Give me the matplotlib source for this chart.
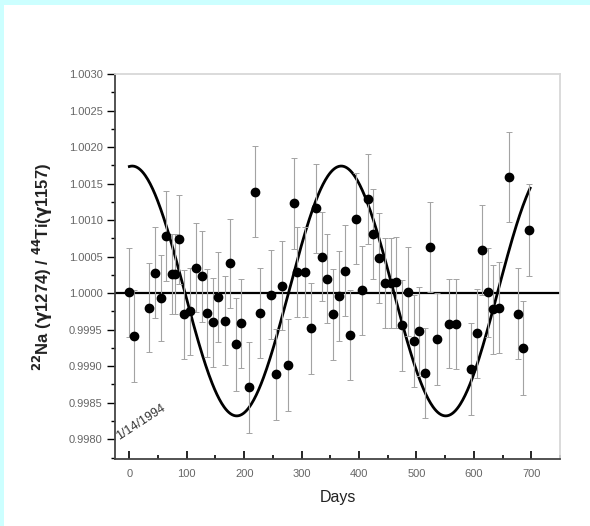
import numpy as np
import matplotlib
matplotlib.use("Agg")
import matplotlib.pyplot as plt
from matplotlib.patches import Rectangle
from matplotlib.ticker import MultipleLocator

plt.rcParams['font.family'] = ['Liberation Sans', 'DejaVu Sans']

# measured ratio vs days since 1/14/1994
days = [0, 8, 35, 45, 55, 64, 74, 80, 86, 96, 105, 116, 126, 135, 146, 155,
        166, 175, 186, 195, 208, 218, 228, 246, 255, 266, 276, 286, 292, 306,
        316, 325, 336, 345, 355, 365, 375, 385, 395, 405, 415, 425, 435, 445,
        455, 464, 475, 486, 495, 505, 515, 524, 535, 557, 569, 595, 605, 614,
        625, 634, 644, 661, 676, 686, 696]
ratio = [1.00001, 0.99942, 0.99980, 1.00028, 0.99993, 1.00078, 1.00026, 1.00026,
         1.00074, 0.99971, 0.99975, 1.00035, 1.00023, 0.99973, 0.99960, 0.99995,
         0.99962, 1.00041, 0.99930, 0.99959, 0.99871, 1.00139, 0.99973, 0.99998,
         0.99889, 1.00010, 0.99902, 1.00123, 1.00029, 1.00029, 0.99952, 1.00116,
         1.00050, 1.00020, 0.99971, 0.99996, 1.00031, 0.99943, 1.00102, 1.00004,
         1.00129, 1.00081, 1.00048, 1.00014, 1.00014, 1.00015, 0.99956, 1.00002,
         0.99934, 0.99948, 0.99891, 1.00063, 0.99937, 0.99958, 0.99958, 0.99896,
         0.99945, 1.00059, 1.00001, 0.99978, 0.99980, 1.00159, 0.99972, 0.99925,
         1.00086]
err = [0.00061, 0.00063, 0.00061, 0.00062, 0.00059, 0.00062, 0.00055, 0.00055,
       0.00061, 0.00061, 0.00060, 0.00061, 0.00062, 0.00060, 0.00061, 0.00062,
       0.00061, 0.00061, 0.00064, 0.00061, 0.00062, 0.00062, 0.00062, 0.00061,
       0.00062, 0.00061, 0.00063, 0.00062, 0.00062, 0.00062, 0.00062, 0.00061,
       0.00061, 0.00061, 0.00062, 0.00062, 0.00062, 0.00062, 0.00062, 0.00061,
       0.00062, 0.00062, 0.00062, 0.00061, 0.00062, 0.00062, 0.00062, 0.00061,
       0.00063, 0.00061, 0.00062, 0.00062, 0.00063, 0.00061, 0.00062, 0.00063,
       0.00061, 0.00061, 0.00061, 0.00061, 0.00062, 0.00062, 0.00062, 0.00064,
       0.00063]

# fitted annual modulation
fit_mean = 1.00003
fit_amp = 0.00171
fit_period = 364.0
fit_peak_day = 5.0

xticks = [0, 100, 200, 300, 400, 500, 600, 700]
yticks = [0.9980, 0.9985, 0.9990, 0.9995, 1.0000, 1.0005, 1.0010, 1.0015,
          1.0020, 1.0025, 1.0030]

fig = plt.figure(figsize=(5.9, 5.26), dpi=100, facecolor='#ccffff')
fig.patches.append(Rectangle((4 / 590, 0), 1, 1 - 5 / 526, transform=fig.transFigure,
                             facecolor='white', edgecolor='none', zorder=-1))

ax = fig.add_axes([115 / 590, 67 / 526, 445 / 590, 385 / 526])
ax.set_facecolor('white')

ax.axhline(1.0, color='black', lw=1.6, zorder=2)

t = np.linspace(0, 698, 500)
fit = fit_mean + fit_amp * np.cos(2 * np.pi * (t - fit_peak_day) / fit_period)
ax.plot(t, fit, color='black', lw=2.0, zorder=3)

ax.errorbar(days, ratio, yerr=err, fmt='o', color='black', ms=6,
            ecolor='#a3a3a3', elinewidth=0.8, capsize=2.5, capthick=0.7, zorder=4)

ax.text(-15, 0.99795, '1/14/1994', rotation=33, rotation_mode='anchor',
        ha='left', va='bottom', fontsize=9, color='#333333')

ax.set_xlim(-25, 750)
ax.set_ylim(0.99773, 1.0030)
ax.set_xticks(xticks)
ax.set_yticks(yticks)
ax.set_yticklabels(['%.4f' % v for v in yticks])
ax.xaxis.set_minor_locator(MultipleLocator(50))
ax.yaxis.set_minor_locator(MultipleLocator(0.00025))

ax.tick_params(axis='x', which='major', direction='in', length=6, width=1.2,
               labelsize=8, labelcolor='#666666', pad=7)
ax.tick_params(axis='x', which='minor', direction='in', length=3, width=1.2)
ax.tick_params(axis='y', which='major', direction='out', length=6, width=1,
               labelsize=8, labelcolor='#666666', pad=3)
ax.tick_params(axis='y', which='minor', direction='out', length=3, width=1)

for s in ['left', 'bottom']:
    ax.spines[s].set_color('#444444')
    ax.spines[s].set_linewidth(1.3)
for s in ['top', 'right']:
    ax.spines[s].set_color('#d8d8d8')
    ax.spines[s].set_linewidth(1.3)

ax.set_xlabel('Days', fontsize=11.5, color='#222222', labelpad=8)
ax.set_ylabel(r'$^{\mathbf{22}}$Na ($\mathbf{\gamma}$1274) / $^{\mathbf{44}}$Ti($\mathbf{\gamma}$1157)',
              fontsize=12, fontweight='bold', color='#222222', labelpad=10)

fig.savefig('out.png', dpi=100, facecolor=fig.get_facecolor())
